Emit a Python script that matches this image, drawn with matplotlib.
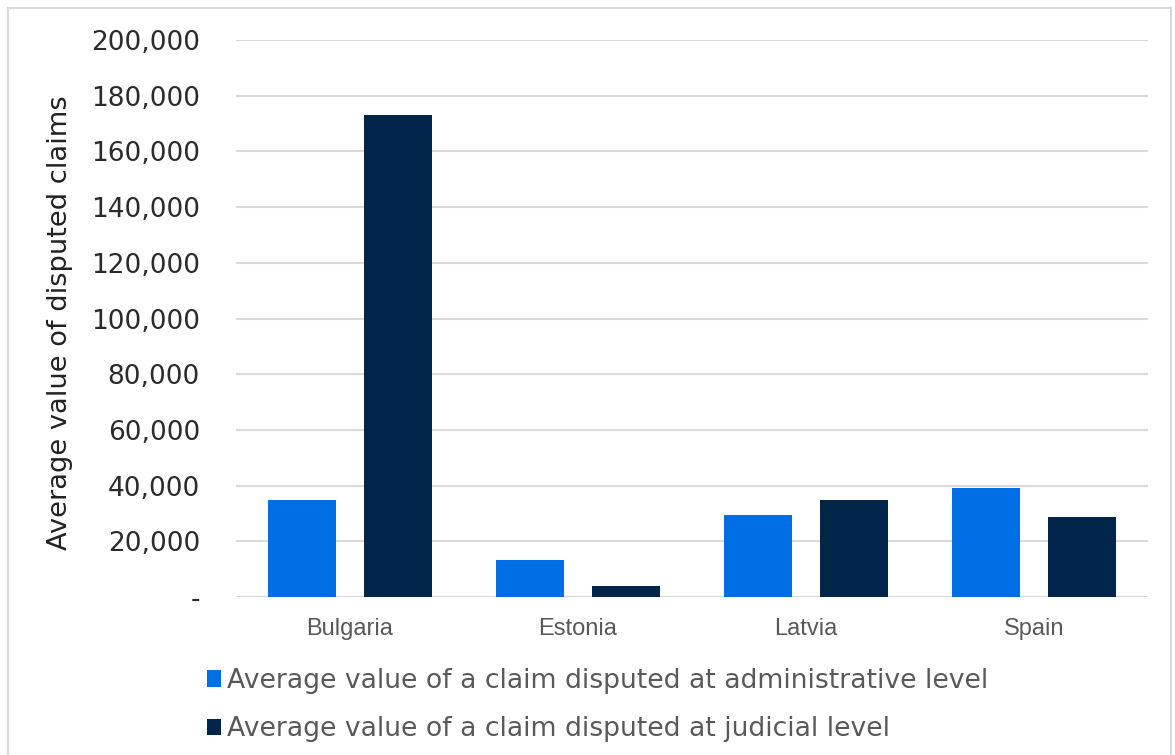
import matplotlib

matplotlib.use('Agg')
import matplotlib.pyplot as plt
import numpy as np
from matplotlib.patches import Rectangle
from matplotlib.ticker import FuncFormatter

# values
countries = ['Bulgaria', 'Estonia', 'Latvia', 'Spain']
admin_level = [34700, 13200, 29300, 39200]
judicial_level = [173200, 4100, 34700, 28700]
series_names = ['Average value of a claim disputed at administrative level',
                'Average value of a claim disputed at judicial level']
y_ticks = list(range(0, 200001, 20000))

BLUE = '#006FE6'
NAVY = '#00244A'
GRID = '#D9D9D9'
GREY = '#595959'

plt.rcParams['font.family'] = ['DejaVu Sans']

fig = plt.figure(figsize=(11.75, 7.55), dpi=100)
fig.patches.append(Rectangle((8 / 1175, -0.02), 1163 / 1175, 1 - 8 / 755 + 0.02,
                             transform=fig.transFigure, fill=False,
                             edgecolor='#D9D9D9', linewidth=1.5, zorder=0))

ax = fig.add_axes([236 / 1175, 1 - 597 / 755, 912 / 1175, 557 / 755])
x = np.arange(len(countries))
w = 0.30
ax.bar(x - 0.21, admin_level, w, color=BLUE, label=series_names[0], zorder=3)
ax.bar(x + 0.21, judicial_level, w, color=NAVY, label=series_names[1], zorder=3)

ax.set_xlim(-0.5, len(countries) - 0.5)
ax.set_ylim(0, 200000)
ax.set_yticks(y_ticks)
ax.yaxis.set_major_formatter(FuncFormatter(lambda v, p: '-' if v == 0 else '{:,.0f}'.format(v)))
ax.grid(axis='y', color=GRID, linewidth=1.5, zorder=0)
ax.set_axisbelow(True)
for s in ax.spines.values():
    s.set_visible(False)
ax.tick_params(axis='y', length=0, pad=26, labelsize=19, labelcolor='#2b2b2b')
ax.tick_params(axis='x', length=0, pad=15, labelsize=17, labelcolor=GREY)
ax.set_xticks(x)
ax.set_xticklabels(countries)
for lab in ax.get_xticklabels():
    lab.set_family(['Liberation Sans', 'DejaVu Sans'])

ax.set_ylabel('Average value of disputed claims', fontsize=19.6, color='#222222', va='center')
ax.yaxis.set_label_coords((60 - 236) / 912, (597 - 323) / 557)

fig.legend(loc='upper left', bbox_to_anchor=(207 / 1175, 1 - 668 / 755),
           frameon=False, fontsize=19.2, labelcolor=GREY, handlelength=0.52,
           handleheight=0.56, handletextpad=0.22, labelspacing=0.84,
           borderpad=0, borderaxespad=0)

fig.savefig('out.png', dpi=100)
